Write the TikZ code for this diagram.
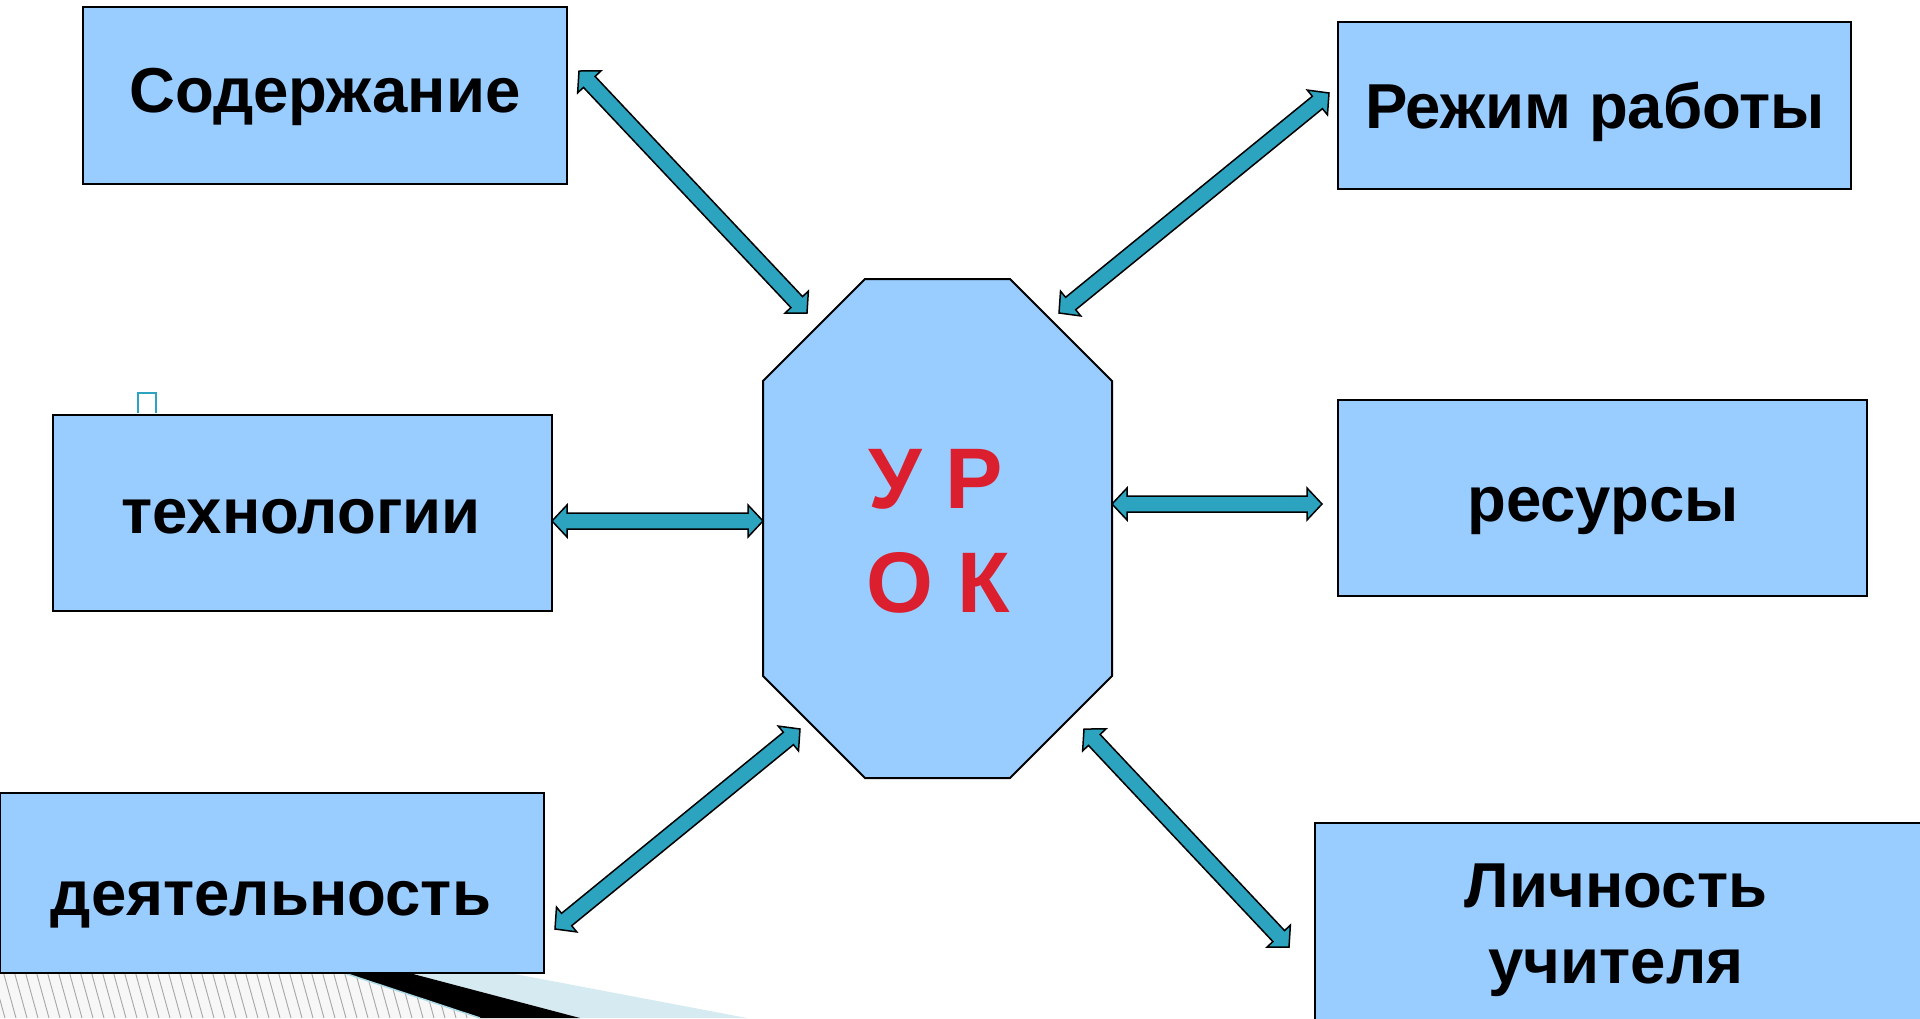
\documentclass[tikz,border=0pt]{standalone}
\usepackage{fontspec}
\setmainfont{Liberation Sans}
\usetikzlibrary{calc}
\definecolor{boxblue}{HTML}{99CCFF}
\definecolor{arrteal}{HTML}{2CA3BF}
\definecolor{urokred}{HTML}{DC1F2E}
\definecolor{bandblue}{HTML}{D6EAF2}
\tikzset{
  box/.style={draw=black, line width=2pt, fill=boxblue, inner sep=0pt, outer sep=0pt, anchor=north west},
  lbl/.style={font=\fontsize{63.5}{76}\selectfont\bfseries, anchor=base, inner sep=0pt},
  uroklbl/.style={font=\fontsize{86}{100}\selectfont\bfseries, text=urokred, anchor=base, inner sep=0pt},
  dblarrow/.style={draw=black, line width=1.5pt, fill=arrteal, line join=miter},
  octo/.style={draw=black, line width=2pt, fill=boxblue},
}
\newcommand\blkarrow[2]{%
  \draw[dblarrow] (#1)
   -- ($(#1)!15pt!(#2)!16pt!90:(#2)$)
   -- ($(#1)!15pt!(#2)!8pt!90:(#2)$)
   -- ($(#2)!15pt!(#1)!8pt!-90:(#1)$)
   -- ($(#2)!15pt!(#1)!16pt!-90:(#1)$)
   -- (#2)
   -- ($(#2)!15pt!(#1)!16pt!90:(#1)$)
   -- ($(#2)!15pt!(#1)!8pt!90:(#1)$)
   -- ($(#1)!15pt!(#2)!8pt!-90:(#2)$)
   -- ($(#1)!15pt!(#2)!16pt!-90:(#2)$)
   -- cycle;}
\begin{document}
\begin{tikzpicture}[x=1pt,y=-1pt]
\useasboundingbox (0,0) rectangle (1920,1018);
\clip (0,0) rectangle (1920,1018);
\fill[white] (0,0) rectangle (1920,1018);
% bottom-left decoration
\fill[bandblue] (360,960) -- (441,960) -- (747,1018) -- (580,1018) -- cycle;
\fill[black] (305,960) -- (360,960) -- (580,1018) -- (480,1018) -- cycle;
\begin{scope}
  \clip (0,960) -- (305,960) -- (480,1018) -- (0,1018) -- cycle;
  \fill[gray!6] (0,960) rectangle (500,1018);
  \foreach \i in {-3,...,45} {
    \draw[gray!70, line width=0.9pt] (\i*11,960) -- (\i*11+16,1018);
  }
\end{scope}
\draw[arrteal!40, line width=1.5pt] (305,960) -- (480,1018);
% boxes
\node[box, minimum width=484pt, minimum height=177pt] (sod) at (83,7) {};
\node[box, minimum width=513pt, minimum height=167pt] (rezh) at (1338,22) {};
\node[box, minimum width=499pt, minimum height=196pt] (tech) at (53,415) {};
\node[box, minimum width=529pt, minimum height=196pt] (res) at (1338,400) {};
\node[box, minimum width=544pt, minimum height=180pt] (deyat) at (0,793) {};
\node[box, minimum width=620pt, minimum height=220pt] (lich) at (1315,823) {};
% small glyph box
\draw[arrteal, line width=2.5pt] (138,413) -- (138,393) -- (156,393) -- (156,413);
% central octagon
\draw[octo] (865,279) -- (1010,279) -- (1112,381) -- (1112,676) -- (1010,778)
  -- (865,778) -- (763,676) -- (763,381) -- cycle;
\coordinate (urok) at (937.5,528.5);
% arrow end points
\coordinate (a1s) at (579,71);   \coordinate (a1e) at (807,313);
\coordinate (a2s) at (1329,93);  \coordinate (a2e) at (1059,313);
\coordinate (a3s) at (552,521);  \coordinate (a3e) at (763,521);
\coordinate (a4s) at (1112,504); \coordinate (a4e) at (1322,504);
\coordinate (a5s) at (800,729);  \coordinate (a5e) at (555,929);
\coordinate (a6s) at (1084,729); \coordinate (a6e) at (1289,947);
\blkarrow{a1s}{a1e}
\blkarrow{a2s}{a2e}
\blkarrow{a3s}{a3e}
\blkarrow{a4s}{a4e}
\blkarrow{a5s}{a5e}
\blkarrow{a6s}{a6e}
% labels
\node[lbl] (sodt) at (325,112) {Содержание};
\node[lbl] (rezht) at (1595,128) {Режим работы};
\node[lbl] (techt) at (301,533) {технологии};
\node[lbl] (rest) at (1603,521) {ресурсы};
\node[lbl] (deyatt) at (271,915) {деятельность};
\node[lbl] (licht1) at (1616,907) {Личность};
\node[lbl] (licht2) at (1616,983) {учителя};
\node[uroklbl] (urok1) at (936,508) {У Р};
\node[uroklbl] (urok2) at (938,612) {О К};
\end{tikzpicture}
\end{document}
